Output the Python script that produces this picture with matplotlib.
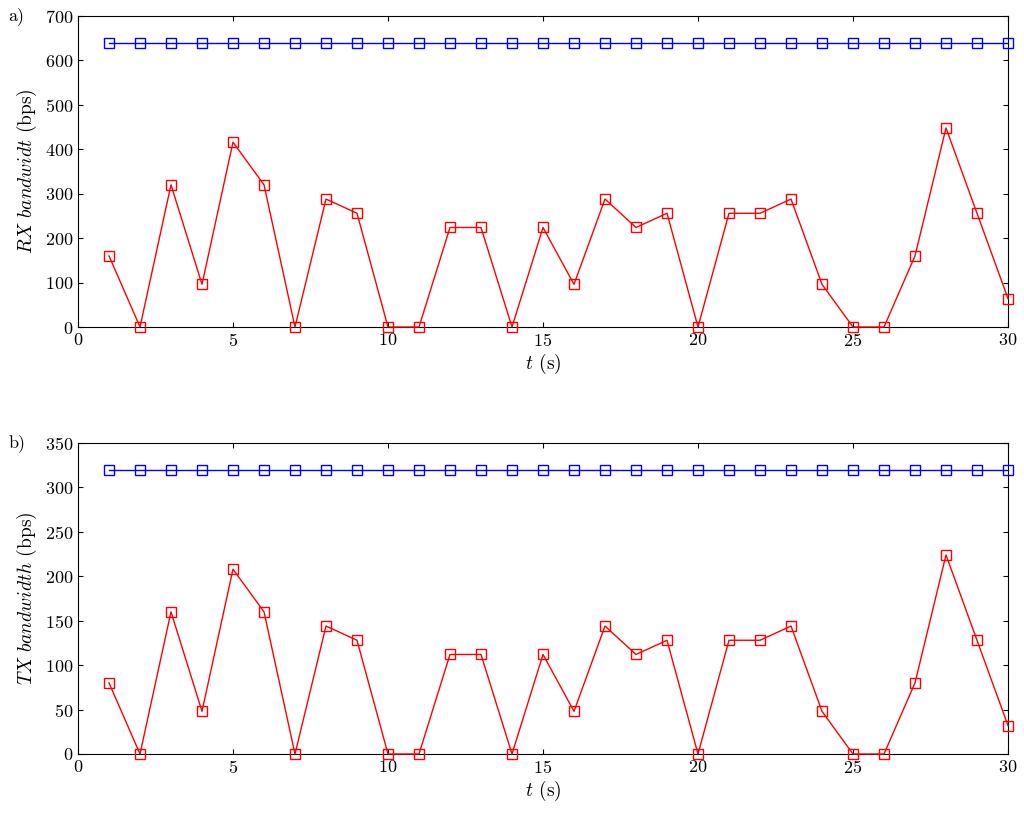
import numpy as np
import matplotlib.pyplot as plt

plt.rcParams['font.family'] = 'serif'
plt.rcParams['font.serif'] = ['cmr10', 'DejaVu Serif']
plt.rcParams['mathtext.fontset'] = 'cm'
plt.rcParams['axes.formatter.use_mathtext'] = True

t = np.arange(1, 31)
rx = [160, 0, 320, 96, 416, 320, 0, 288, 256, 0, 0, 224, 224, 0, 224,
      96, 288, 224, 256, 0, 256, 256, 288, 96, 0, 0, 160, 448, 256, 64]
tx = [80, 0, 160, 48, 208, 160, 0, 144, 128, 0, 0, 112, 112, 0, 112,
      48, 144, 112, 128, 0, 128, 128, 144, 48, 0, 0, 80, 224, 128, 32]
rx_max = [640] * 30
tx_max = [320] * 30

fig = plt.figure(figsize=(10.24, 8.14), dpi=100)
ax1 = fig.add_axes([78/1024, 1-327/814, 930/1024, 311/814])
ax2 = fig.add_axes([78/1024, 1-754/814, 930/1024, 311/814])

panels = [
    (ax1, rx_max, rx, 700, r'$RX\ bandwidt$ (bps)', 'a)'),
    (ax2, tx_max, tx, 350, r'$TX\ bandwidth$ (bps)', 'b)'),
]
for ax, top, val, ymax, ylab, tag in panels:
    ax.plot(t, top, '-s', color='blue', mfc='none', ms=7, lw=1, clip_on=False, zorder=3)
    ax.plot(t, val, '-s', color='red', mfc='none', ms=7, lw=1, clip_on=False, zorder=3)
    ax.set_xlim(0, 30)
    ax.set_ylim(0, ymax)
    ax.set_xticks(range(0, 31, 5))
    ax.set_xlabel(r'$t$ (s)', fontsize=14, labelpad=2)
    ax.set_ylabel(ylab, fontsize=14)
    ax.tick_params(direction='in', labelsize=13, top=True, right=True)
    ax.text(-0.075, 1.0, tag, transform=ax.transAxes, fontsize=13, va='center')

fig.savefig('out.png', dpi=100)
